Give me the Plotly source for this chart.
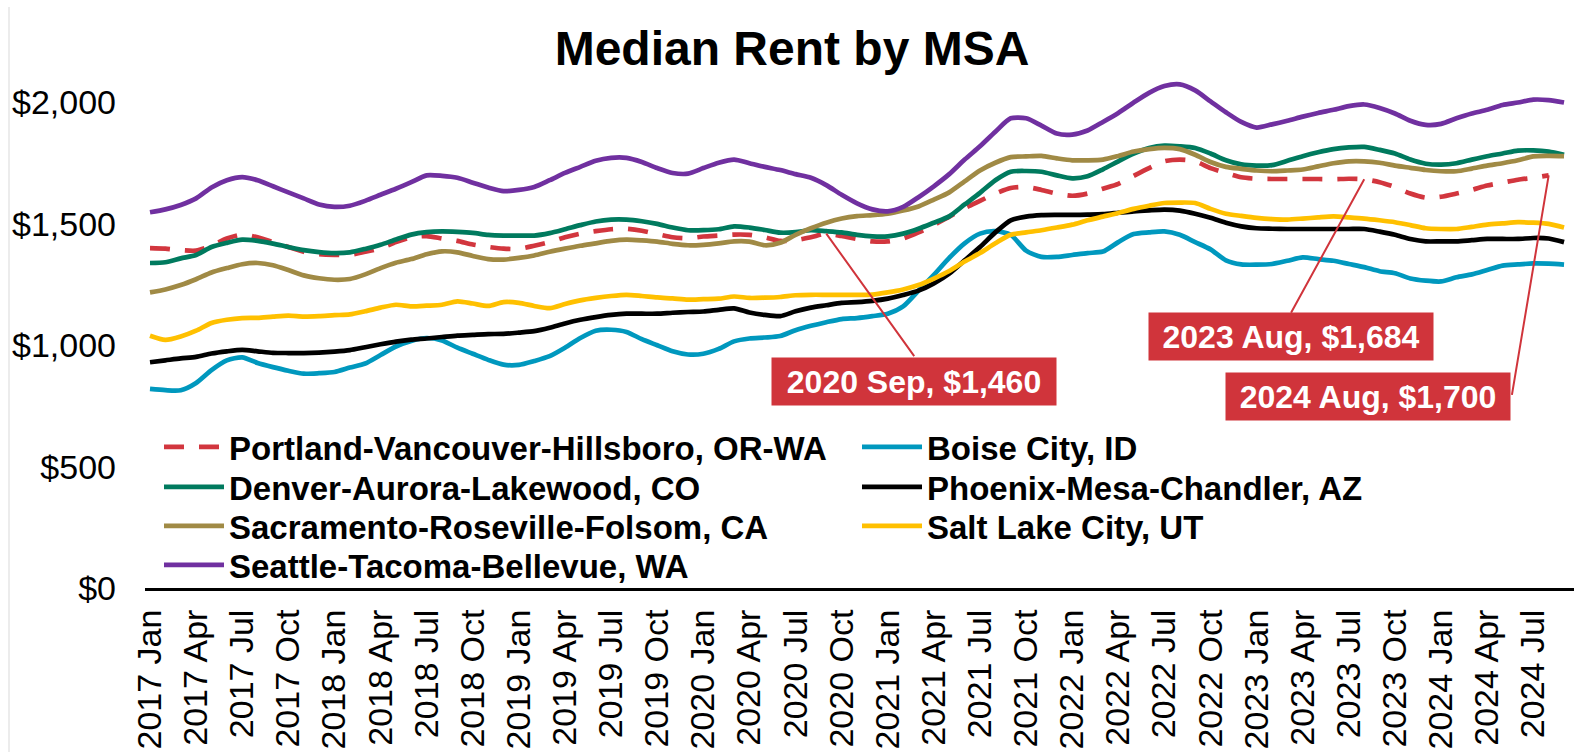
import plotly.graph_objects as go

# ---------------- data ----------------
month_names = ["Jan", "Feb", "Mar", "Apr", "May", "Jun", "Jul", "Aug", "Sep", "Oct", "Nov", "Dec"]
years = [2017, 2018, 2019, 2020, 2021, 2022, 2023, 2024]
n_months = 93  # 2017 Jan .. 2024 Sep
categories = [f"{y} {m}" for y in years for m in month_names][:n_months]
tick_labels = categories[::3]

portland = [1400, 1398, 1392, 1390, 1410, 1440, 1456, 1445, 1425, 1405, 1385, 1375,
            1372, 1373, 1385, 1400, 1425, 1445, 1450, 1440, 1430, 1415, 1405, 1398,
            1397, 1410, 1425, 1445, 1460, 1470, 1478, 1480, 1472, 1458, 1445, 1441,
            1448, 1452, 1456, 1455, 1445, 1430, 1433, 1445, 1460, 1450, 1438, 1428,
            1428, 1440, 1465, 1495, 1530, 1565, 1595, 1625, 1648, 1652, 1640, 1625,
            1616, 1625, 1645, 1665, 1698, 1730, 1758, 1765, 1758, 1730, 1710, 1692,
            1686, 1685, 1685, 1685, 1685, 1684, 1686, 1684, 1672, 1652, 1625, 1608,
            1612, 1625, 1640, 1658, 1670, 1682, 1690, 1700, None]
boise = [820, 815, 815, 845, 898, 938, 950, 927, 910, 895, 883, 885,
         890, 908, 925, 960, 995, 1018, 1030, 1020, 990, 965, 940, 920,
         919, 935, 955, 990, 1030, 1060, 1064, 1055, 1025, 1000, 975, 962,
         965, 985, 1016, 1028, 1032, 1038, 1062, 1080, 1095, 1108, 1112, 1120,
         1130, 1160, 1225, 1290, 1360, 1420, 1460, 1470, 1455, 1390, 1364, 1364,
         1372, 1380, 1386, 1425, 1458, 1465, 1469, 1455, 1425, 1395, 1350, 1333,
         1332, 1335, 1348, 1362, 1355, 1348, 1335, 1322, 1305, 1297, 1275, 1266,
         1263, 1280, 1292, 1310, 1328, 1333, 1337, 1336, 1332]
denver = [1339, 1342, 1358, 1372, 1405, 1422, 1435, 1430, 1419, 1405, 1392, 1384,
          1380, 1383, 1397, 1414, 1436, 1456, 1466, 1469, 1467, 1463, 1455, 1452,
          1452, 1452, 1462, 1478, 1495, 1510, 1518, 1518, 1511, 1500, 1485, 1474,
          1474, 1478, 1490, 1485, 1475, 1464, 1466, 1474, 1470, 1465, 1455, 1449,
          1449, 1460, 1480, 1505, 1531, 1580, 1628, 1680, 1715, 1718, 1715, 1700,
          1688, 1696, 1725, 1758, 1790, 1813, 1823, 1820, 1813, 1790, 1762, 1745,
          1740, 1742, 1760, 1779, 1795, 1808, 1815, 1817, 1805, 1790, 1765, 1748,
          1744, 1750, 1765, 1779, 1790, 1802, 1803, 1798, 1785]
phoenix = [930, 938, 946, 952, 966, 975, 981, 975, 969, 968, 968, 970,
           974, 980, 992, 1004, 1015, 1023, 1028, 1034, 1040, 1043, 1046, 1047,
           1052, 1058, 1072, 1090, 1105, 1116, 1125, 1130, 1130, 1130, 1134, 1137,
           1139, 1146, 1152, 1135, 1125, 1120, 1140, 1155, 1165, 1175, 1178, 1183,
           1192, 1207, 1225, 1255, 1295, 1350, 1405, 1465, 1515, 1530, 1536, 1537,
           1537, 1538, 1540, 1546, 1552, 1556, 1559, 1555, 1542, 1525, 1505, 1490,
           1482, 1480, 1479, 1479, 1479, 1479, 1479, 1479, 1468, 1455, 1438, 1428,
           1428, 1428, 1433, 1438, 1438, 1438, 1442, 1440, 1425]
sacramento = [1218, 1230, 1248, 1272, 1300, 1318, 1334, 1339, 1330, 1310, 1288, 1276,
              1270, 1273, 1292, 1318, 1340, 1355, 1375, 1387, 1383, 1368, 1355, 1353,
              1360, 1370, 1385, 1398, 1410, 1420, 1430, 1435, 1432, 1427, 1418, 1412,
              1414, 1420, 1428, 1427, 1412, 1422, 1455, 1482, 1505, 1522, 1532, 1536,
              1542, 1555, 1572, 1600, 1630, 1675, 1720, 1752, 1775, 1778, 1780, 1770,
              1762, 1762, 1765, 1780, 1798, 1808, 1813, 1808, 1785, 1755, 1735, 1727,
              1720, 1717, 1720, 1724, 1737, 1750, 1758, 1758, 1752, 1740, 1731, 1722,
              1717, 1717, 1728, 1740, 1750, 1762, 1778, 1780, 1779]
salt_lake = [1039, 1022, 1036, 1060, 1092, 1105, 1112, 1113, 1118, 1122, 1118, 1120,
             1124, 1127, 1140, 1155, 1167, 1160, 1163, 1167, 1181, 1172, 1162, 1178,
             1175, 1162, 1153, 1170, 1185, 1195, 1203, 1208, 1203, 1197, 1193, 1188,
             1190, 1192, 1201, 1195, 1196, 1199, 1206, 1208, 1208, 1208, 1208, 1209,
             1218, 1230, 1248, 1275, 1306, 1345, 1380, 1420, 1455, 1465, 1474, 1485,
             1497, 1515, 1530, 1545, 1562, 1575, 1586, 1588, 1586, 1562, 1542, 1533,
             1525, 1520, 1518, 1522, 1527, 1531, 1527, 1522, 1515, 1507, 1495, 1482,
             1479, 1479, 1488, 1497, 1502, 1507, 1505, 1500, 1485]
seattle = [1548, 1560, 1578, 1605, 1650, 1680, 1693, 1680, 1655, 1630, 1605, 1580,
           1570, 1575, 1595, 1620, 1645, 1672, 1700, 1698, 1690, 1670, 1650, 1635,
           1640, 1652, 1680, 1710, 1735, 1760, 1772, 1772, 1755, 1730, 1710, 1707,
           1730, 1752, 1765, 1750, 1735, 1722, 1705, 1690, 1660, 1620, 1585, 1560,
           1552, 1570, 1610, 1655, 1705, 1765, 1820, 1880, 1935, 1935, 1905, 1872,
           1868, 1885, 1920, 1957, 2000, 2040, 2068, 2075, 2050, 2005, 1960, 1920,
           1897, 1910, 1925, 1942, 1957, 1970, 1985, 1992, 1978, 1955, 1925, 1908,
           1912, 1935, 1955, 1970, 1990, 2000, 2012, 2010, 2000]

series_names = ["Portland-Vancouver-Hillsboro, OR-WA", "Boise City, ID",
                "Denver-Aurora-Lakewood, CO", "Phoenix-Mesa-Chandler, AZ",
                "Sacramento-Roseville-Folsom, CA", "Salt Lake City, UT",
                "Seattle-Tacoma-Bellevue, WA"]
series_values = [portland, boise, denver, phoenix, sacramento, salt_lake, seattle]

callout_months = ["2020 Sep", "2023 Aug", "2024 Aug"]
callout_values = [1460, 1684, 1700]

y_ticks = [0, 500, 1000, 1500, 2000]
y_tick_text = ["$0", "$500", "$1,000", "$1,500", "$2,000"]

# ---------------- style ----------------
W, H = 1574, 752
FONT = "Liberation Sans, Arial, sans-serif"
colors = ["#D2363E", "#0098BE", "#007A5E", "#000000", "#A08A45", "#FFC000", "#7030A0"]
dashes = ["20px,15px", "solid", "solid", "solid", "solid", "solid", "solid"]
legend_ids = ["legend", "legend5", "legend2", "legend6", "legend3", "legend7", "legend4"]
# legend positions (pixel) by legend id: (line start x, row centre y)
legend_pos = {
    "legend": (164, 447), "legend2": (164, 487), "legend3": (164, 526), "legend4": (164, 565),
    "legend5": (862, 447), "legend6": (862, 487), "legend7": (862, 526),
}
RED = "#D0343B"

fig = go.Figure()
for name, vals, col, dash, lid in zip(series_names, series_values, colors, dashes, legend_ids):
    fig.add_trace(go.Scatter(
        x=categories, y=vals, name=name, mode="lines",
        line=dict(color=col, width=4.7, dash=dash, shape="spline", smoothing=0.7),
        legend=lid, connectgaps=False, hoverinfo="skip",
    ))

plot_l, plot_r, plot_t, plot_b = 145, 0, 54, 164
px_per_cat = 15.37
x0_px = 150
xr = [(plot_l - x0_px) / px_per_cat, (W - plot_r - x0_px) / px_per_cat]

layout_legends = {}
for lid, (lx, ly) in legend_pos.items():
    layout_legends[lid] = dict(
        xref="container", yref="container",
        x=(lx - 5) / W, y=1 - ly / H, xanchor="left", yanchor="middle",
        bgcolor="rgba(0,0,0,0)", borderwidth=0, itemwidth=60,
        font=dict(family=FONT, size=33, color="#000000", weight="bold"),
        orientation="v", itemclick=False, itemdoubleclick=False,
    )

fig.update_layout(
    width=W, height=H, autosize=False,
    paper_bgcolor="white", plot_bgcolor="white",
    margin=dict(l=plot_l, r=plot_r, t=plot_t, b=plot_b, pad=0, autoexpand=False),
    title=dict(text="<b>Median Rent by MSA</b>", x=792 / W, xref="container", xanchor="center",
               y=1 - 48 / H, yref="container", yanchor="middle",
               font=dict(family=FONT, size=48, color="#000000")),
    showlegend=True,
    hovermode=False,
    **layout_legends,
)
fig.update_xaxes(
    type="category", categoryorder="array", categoryarray=categories,
    range=xr, showgrid=False, zeroline=False, automargin=False,
    showline=True, linecolor="#000000", linewidth=3,
    tickmode="array", tickvals=tick_labels, ticktext=tick_labels,
    tickangle=-90, ticks="", ticklabelstandoff=5,
    tickfont=dict(family=FONT, size=34, color="#000000"),
)
fig.update_yaxes(
    range=[0, 2200], showgrid=False, zeroline=False, showline=False, automargin=False,
    tickmode="array", tickvals=y_ticks, ticktext=y_tick_text,
    ticks="", ticklabelstandoff=28,
    tickfont=dict(family=FONT, size=34, color="#000000"),
)

# call-out boxes (positioned relative to their data point, in pixels)
box_offsets = [(88, -148), (-73, -157), (-181, -221)]
leader_tails = [(89, 124), (-74, 135), (-37, 221)]
for m, v, (bx, by), (tx, ty) in zip(callout_months, callout_values, box_offsets, leader_tails):
    fig.add_annotation(
        x=m, y=v, xref="x", yref="y", text="", showarrow=True,
        ax=tx, ay=ty, axref="pixel", ayref="pixel",
        arrowhead=0, arrowwidth=2, arrowcolor=RED, standoff=0, startstandoff=0,
    )
    fig.add_annotation(
        x=m, y=v, xref="x", yref="y", showarrow=False,
        text=f"<b>{m}, ${v:,}</b>", xshift=bx, yshift=by,
        xanchor="center", yanchor="middle", align="center",
        bgcolor=RED, borderpad=3, width=278, height=41,
        font=dict(family=FONT, size=32, color="#FFFFFF"),
    )

# thin chart-area border on the left
fig.add_shape(type="line", xref="paper", yref="paper",
              x0=(9 - plot_l) / (W - plot_l - plot_r), x1=(9 - plot_l) / (W - plot_l - plot_r),
              y0=(H - plot_b - 7) / (H - plot_t - plot_b), y1=-plot_b / (H - plot_t - plot_b),
              line=dict(color="#D9D9D9", width=1), layer="above")

fig.write_html("out.html", config={"displayModeBar": False, "staticPlot": True},
               post_script="document.body.style.margin='0';document.body.style.overflow='hidden';")
